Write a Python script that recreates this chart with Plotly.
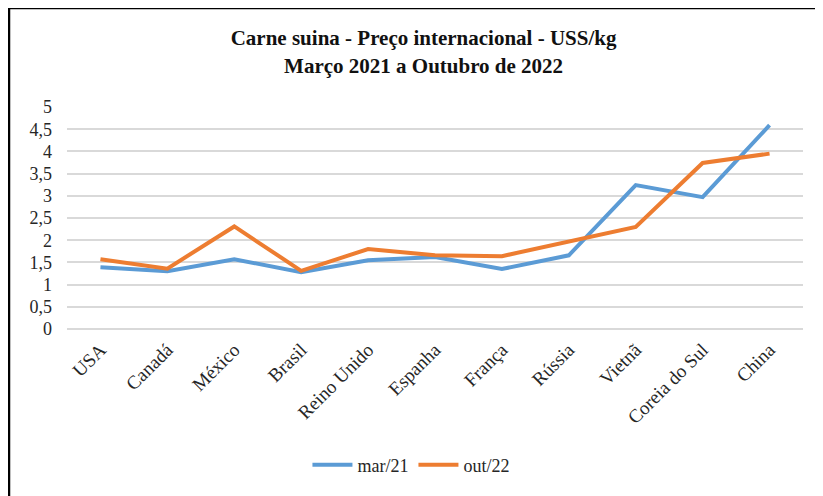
import plotly.graph_objects as go

paises = ["USA", "Canadá", "México", "Brasil", "Reino Unido", "Espanha",
          "França", "Rússia", "Vietnã", "Coreia do Sul", "China"]
mar_21 = [1.39, 1.30, 1.57, 1.28, 1.55, 1.62, 1.35, 1.66, 3.24, 2.97, 4.59]
out_22 = [1.57, 1.36, 2.31, 1.31, 1.80, 1.66, 1.64, 1.97, 2.30, 3.74, 3.95]

serif = "Liberation Serif, Times New Roman, serif"
texto = "#262626"

fig = go.Figure()
fig.add_trace(go.Scatter(x=paises, y=mar_21, name="mar/21", mode="lines",
                         line=dict(color="#5B9BD5", width=4)))
fig.add_trace(go.Scatter(x=paises, y=out_22, name="out/22", mode="lines",
                         line=dict(color="#ED7D31", width=4)))

fig.update_layout(
    width=823, height=496,
    margin=dict(l=59, r=28, t=99, b=175),
    paper_bgcolor="white", plot_bgcolor="white",
    separators=",.",
    font=dict(family=serif, size=18, color=texto),
    title=dict(text="<b>Carne suina - Preço internacional - USS/kg<br>Março 2021 a Outubro de 2022</b>",
               x=0.505, xanchor="center", y=0.925, yanchor="middle",
               font=dict(family=serif, size=21, color="#111111")),
    xaxis=dict(type="category", range=[-0.5, 10.5], showgrid=False,
               tickangle=-45, ticks="", showline=False,
               tickfont=dict(size=19, color=texto), ticklabelstandoff=5),
    yaxis=dict(range=[0, 5], dtick=0.5, tick0=0, showgrid=True,
               gridcolor="#d9d9d9", gridwidth=1.5, zeroline=True,
               zerolinecolor="#d9d9d9", zerolinewidth=1.5,
               tickfont=dict(size=18, color=texto), ticklabelstandoff=14,
               fixedrange=True),
    legend=dict(orientation="h", x=0.468, xanchor="center", y=-0.613,
                yanchor="middle", font=dict(size=18, color=texto),
                itemwidth=40, tracegroupgap=0),
    showlegend=True,
)

# moldura do grafico (borda superior e esquerda)
fig.add_shape(type="line", xref="paper", yref="paper",
              x0=-0.0788, x1=1.1, y0=1.446, y1=1.446,
              line=dict(color="black", width=2.5))
fig.add_shape(type="line", xref="paper", yref="paper",
              x0=-0.0788, x1=-0.0788, y0=-0.8, y1=1.446,
              line=dict(color="black", width=2.5))

fig.write_html("out.html")
